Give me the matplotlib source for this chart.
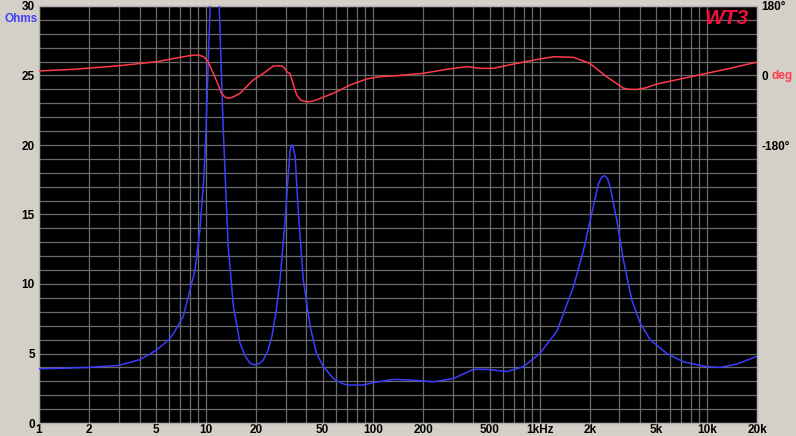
import numpy as np
import matplotlib
matplotlib.use('Agg')
import matplotlib.pyplot as plt
from matplotlib.ticker import FixedLocator, NullFormatter
import matplotlib.transforms as mtrans

# impedance curve (Hz, ohms)
imp_freq = [1, 1.5, 2, 3, 4, 5, 6, 6.4, 7.3, 8.0, 8.6, 9.2, 9.7, 10.0, 10.6, 11.3, 12.0,
            12.7, 13.2, 13.6, 14.6, 16.0, 17.2, 18.4, 19.7, 21, 22.1, 23.5, 24.8, 26.3,
            27.8, 29.8, 31.0, 31.9, 32.4, 32.8, 33.3, 34.2, 35.8, 38.3, 42.0, 46, 50.6,
            58, 64, 70, 88, 100, 133, 167, 231, 304, 400, 481, 634, 798, 1000, 1265, 1590,
            1825, 2048, 2245, 2340, 2440, 2540, 2637, 2892, 3170, 3557, 3990, 4580, 5770,
            7250, 10000, 12000, 15140, 18620, 20000]
imp_ohm = [3.9, 3.95, 4.0, 4.15, 4.55, 5.2, 6.0, 6.45, 7.65, 9.5, 11.0, 13.9, 17.5, 21.0,
           30, 38, 30, 21.1, 16.3, 12.7, 8.4, 5.75, 4.8, 4.3, 4.17, 4.3, 4.55, 5.2, 6.2,
           8.0, 10.3, 14.6, 17.6, 19.5, 19.95, 20.0, 19.85, 19.2, 15.1, 10.3, 7.0, 5.0,
           4.05, 3.2, 2.9, 2.73, 2.73, 2.9, 3.14, 3.09, 2.97, 3.2, 3.86, 3.86, 3.7, 4.05,
           5.0, 6.6, 9.8, 12.4, 15.1, 17.2, 17.65, 17.8, 17.6, 17.0, 14.6, 11.7, 8.85,
           7.2, 6.0, 5.0, 4.4, 4.05, 4.0, 4.24, 4.65, 4.8]

# phase curve (Hz, degrees)
ph_freq = [1, 1.6, 2.9, 5.1, 7.0, 8.0, 8.6, 9.2, 9.7, 10.3, 11.3, 12.4, 13.0, 13.6, 14.5,
           16, 19.2, 22.1, 25.4, 27.8, 29.1, 30.5, 31.9, 34.9, 37, 40.1, 43, 46, 58, 73,
           92, 110, 139, 200, 277, 364, 440, 527, 697, 1000, 1215, 1590, 1990, 2510,
           3170, 3500, 3830, 4300, 5030, 7250, 10000, 13800, 18600, 20000]
ph_deg = [11.7, 16, 24.6, 35.8, 47, 51.5, 53, 52, 48.7, 35.7, -3, -46, -56, -59, -56,
          -46, -11.7, 5.7, 24.6, 25, 23, 10, 5, -50, -64, -68, -67, -63, -46, -24.6,
          -9, -3, -0.5, 5.7, 16, 23, 18.6, 18.6, 29.8, 43, 48.7, 47, 31.6, -3,
          -33, -36, -36, -32, -22, -7.3, 5.7, 18.6, 31.6, 34]

x_ticks = [1, 2, 5, 10, 20, 50, 100, 200, 500, 1000, 2000, 5000, 10000, 20000]
x_labels = ['1', '2', '5', '10', '20', '50', '100', '200', '500', '1kHz', '2k', '5k', '10k', '20k']
y_ticks = [0, 5, 10, 15, 20, 25, 30]

plt.rcParams['font.family'] = ['Liberation Sans', 'DejaVu Sans']

fig = plt.figure(figsize=(7.96, 4.36), dpi=100)
fig.patch.set_facecolor('#d4d0c8')
ax = fig.add_axes([39 / 796, 13 / 436, 718 / 796, 417 / 436])
ax.set_facecolor('black')

ax.set_xscale('log')
ax.set_xlim(1, 20000)
ax.set_ylim(0, 30)

# grid
minor_x = [m * 10 ** d for d in range(5) for m in range(1, 10) if m * 10 ** d <= 20000]
ax.xaxis.set_major_locator(FixedLocator(x_ticks))
ax.xaxis.set_minor_locator(FixedLocator(minor_x))
ax.xaxis.set_minor_formatter(NullFormatter())
ax.set_xticklabels(x_labels)
ax.yaxis.set_major_locator(FixedLocator(y_ticks))
ax.yaxis.set_minor_locator(FixedLocator(range(31)))
ax.grid(which='both', color='#6a6a6a', linewidth=0.9)
ax.set_axisbelow(True)

ax.tick_params(which='both', length=0)
ax.tick_params(axis='x', pad=1, labelsize=8.5)
ax.tick_params(axis='y', pad=3, labelsize=8.5)
for lab in ax.get_xticklabels() + ax.get_yticklabels():
    lab.set_fontweight('bold')
for s in ax.spines.values():
    s.set_color('#b0b0b0')
    s.set_linewidth(1)

ax.plot(imp_freq, imp_ohm, color='#3c3cff', linewidth=1.1, zorder=3)

ax2 = ax.twinx()
ax2.set_ylim(-900, 180)
ax2.set_yticks([180, 0, -180])
ax2.set_yticklabels(['180°', '0', '-180°'])
ax2.tick_params(length=0, pad=3, labelsize=8.5)
for lab in ax2.get_yticklabels():
    lab.set_fontweight('bold')
for s in ax2.spines.values():
    s.set_visible(False)
ax2.plot(ph_freq, ph_deg, color='#ff3a4a', linewidth=1.1, zorder=4)

tr = mtrans.blended_transform_factory(fig.transFigure, ax2.transData)
ax2.text(772 / 796, 0, 'deg', transform=tr, color='#ff3a4a', fontsize=8.5,
         fontweight='bold', ha='left', va='center')

fig.text(21 / 796, 1 - 19 / 436, 'Ohms', color='#4040ff', fontsize=8.5,
         fontweight='bold', ha='center', va='center')
fig.text(727 / 796, 1 - 18 / 436, 'WT3', color='#f01040', fontsize=15,
         fontweight='bold', style='italic', ha='center', va='center')

fig.savefig('out.png', dpi=100, facecolor=fig.get_facecolor())
